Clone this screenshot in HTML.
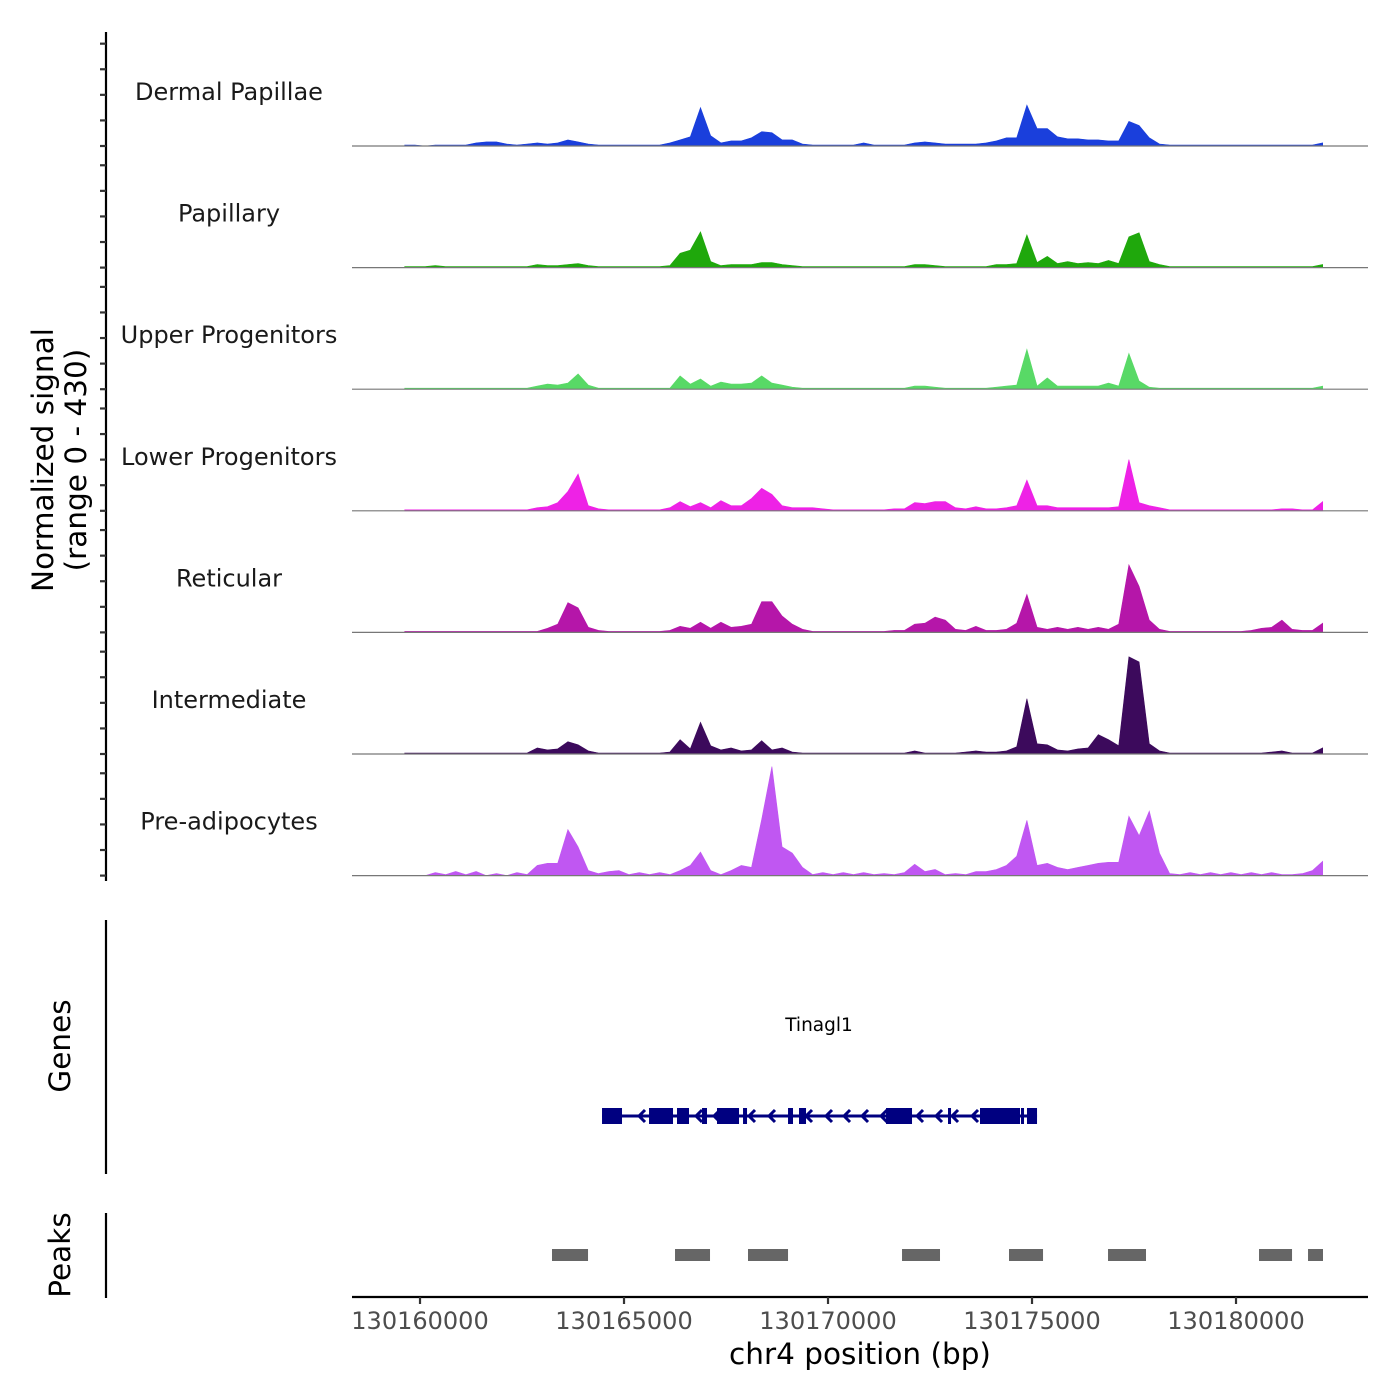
<!DOCTYPE html>
<html>
<head>
<meta charset="utf-8">
<style>
  html,body{margin:0;padding:0;background:#fff;}
  svg{display:block;font-family:"DejaVu Sans","Liberation Sans",sans-serif;}
</style>
</head>
<body>
<svg id="chart" width="1400" height="1400" viewBox="0 0 1400 1400" xmlns="http://www.w3.org/2000/svg">
  <rect x="0" y="0" width="1400" height="1400" fill="#ffffff"/>
  <text transform="translate(53,460) rotate(-90)" text-anchor="middle" font-size="29.5" fill="#000">Normalized signal</text>
  <text transform="translate(86,460) rotate(-90)" text-anchor="middle" font-size="29.5" fill="#000">(range 0 - 430)</text>
  <line x1="106" y1="32" x2="106" y2="881" stroke="#000" stroke-width="2.2"/>
  <g id="tracks"></g>
  <g id="yticks"></g>

  <text transform="translate(70,1046) rotate(-90)" text-anchor="middle" font-size="29.5" fill="#000">Genes</text>
  <line x1="106" y1="920" x2="106" y2="1174" stroke="#000" stroke-width="2.2"/>
  <text x="819" y="1031" text-anchor="middle" font-size="18.5" fill="#000">Tinagl1</text>
  <g id="gene"></g>

  <text transform="translate(70,1255) rotate(-90)" text-anchor="middle" font-size="29.5" fill="#000">Peaks</text>
  <line x1="106" y1="1213" x2="106" y2="1298" stroke="#000" stroke-width="2.2"/>
  <g id="peaks"></g>

  <line x1="352" y1="1297" x2="1368" y2="1297" stroke="#000" stroke-width="2.2"/>
  <g id="xticks"></g>
  <text x="860" y="1364" text-anchor="middle" font-size="29.5" fill="#000">chr4 position (bp)</text>
</svg>
<script>
// ---- data ----
const trackNames = ["Dermal Papillae","Papillary","Upper Progenitors","Lower Progenitors","Reticular","Intermediate","Pre-adipocytes"];
const trackColors = ["#1a3fdc","#1fa80c","#58d966","#ee22e6","#b516a9","#3c0a5c","#c057f2"];
const binStart = 130159500;
const binSize = 250;
const yMax = 430;
const sigDermalPapillae = [4,4,0,4,4,4,4,12,16,16, 8,4,8,12,8,12,24,16,8,4, 4,4,4,4,4,4,12,24,36,150, 40,12,20,20,32,56,52,24,24,8, 4,4,4,4,4,12,4,4,4,4, 12,16,12,8,8,8,8,12,20,32, 32,160,68,68,36,28,28,24,24,20, 20,96,80,32,8,4,4,4,4,4, 4,4,4,4,4,4,4,4,4,4, 12];
const sigPapillary = [4,4,4,8,4,4,4,4,4,4, 4,4,4,12,8,8,12,16,8,4, 4,4,4,4,4,4,8,56,68,140, 24,8,12,12,12,20,20,12,8,4, 4,4,4,4,4,4,4,4,4,4, 12,12,8,4,4,4,4,4,12,12, 16,128,20,44,16,24,16,20,16,28, 16,120,136,24,12,4,4,4,4,4, 4,4,4,4,4,4,4,4,4,4, 12];
const sigUpperProgenitors = [4,4,4,4,4,4,4,4,4,4, 4,4,4,12,20,16,24,60,16,4, 4,4,4,4,4,4,4,52,20,40, 12,28,20,20,24,52,24,16,8,4, 4,4,4,4,4,4,4,4,4,4, 12,12,8,4,4,4,4,4,8,12, 16,156,12,44,12,12,12,12,12,24, 12,140,32,8,4,4,4,4,4,4, 4,4,4,4,4,4,4,4,4,4, 12];
const sigLowerProgenitors = [4,4,4,4,4,4,4,4,4,4, 4,4,4,12,16,32,76,144,20,8, 4,4,4,4,4,4,12,36,16,32, 12,40,20,20,48,88,64,20,12,12, 12,8,4,4,4,4,4,4,8,8, 32,28,36,36,12,8,16,8,8,12, 20,120,20,20,12,12,12,12,12,12, 16,200,32,20,12,4,4,4,4,4, 4,4,4,4,4,4,8,8,4,4, 36];
const sigReticular = [4,4,4,4,4,4,4,4,4,4, 4,4,4,4,16,32,116,96,20,8, 4,4,4,4,4,4,8,24,16,40, 16,40,20,24,32,120,120,64,32,12, 4,4,4,4,4,4,4,4,8,8, 32,36,60,48,12,8,24,8,8,12, 36,148,20,12,20,12,20,12,20,12, 32,264,180,48,12,4,4,4,4,4, 4,4,4,8,16,20,48,12,8,8, 36];
const sigIntermediate = [4,4,4,4,4,4,4,4,4,4, 4,4,4,24,16,20,48,36,12,4, 4,4,4,4,4,4,8,56,20,124, 32,16,24,12,16,52,16,24,8,4, 4,4,4,4,4,4,4,4,4,4, 12,4,4,4,4,8,12,8,8,12, 28,216,40,36,16,12,20,24,76,56, 32,380,360,40,12,4,4,4,4,4, 4,4,4,4,4,8,12,4,4,4, 24];
const sigPreadipocytes = [0,0,0,12,4,16,4,16,0,8, 0,12,4,40,48,48,180,112,20,8, 16,20,4,12,4,12,4,20,40,92, 20,4,20,40,32,220,426,112,88,32, 4,12,4,12,4,12,4,8,4,12, 44,16,24,4,8,4,16,16,24,40, 76,216,40,48,32,24,32,40,48,52, 52,232,156,252,88,8,4,12,4,12, 4,12,4,12,4,12,4,4,8,20, 56];
const trackSignals = [sigDermalPapillae,sigPapillary,sigUpperProgenitors,sigLowerProgenitors,sigReticular,sigIntermediate,sigPreadipocytes];
const yTickValues = [0,100,200,300,400];
const xTickValues = [130160000,130165000,130170000,130175000,130180000];
const xTickLabels = ["130160000","130165000","130170000","130175000","130180000"];
const geneStart = 130164461;
const geneEnd = 130175123;
const exonStarts = [130164461,130165613,130166299,130166912,130167279,130167917,130169020,130169289,130171422,130172941,130173725,130174730,130174877];
const exonEnds   = [130164951,130166201,130166593,130167034,130167819,130168015,130169142,130169461,130172059,130173015,130174706,130174804,130175123];
const arrowPositions = [130165392,130166789,130167230,130168088,130168578,130169485,130169975,130170417,130170858,130171324,130172206,130172672,130173064,130173554];
const peakStarts = [130163235,130166250,130168039,130171814,130174436,130176863,130180564,130181765];
const peakEnds   = [130164118,130167108,130169020,130172745,130175270,130177794,130181373,130182132];

// ---- scales ----
const NS = "http://www.w3.org/2000/svg";
const xL = 352, xR = 1368, bpL = 130158333, bpR = 130183235;
function xScale(bp){ return xL + (bp - bpL) / (bpR - bpL) * (xR - xL); }
const trackBase0 = 146, trackStep = 121.6, trackH = 110;
function yScale(v, t){ return trackBase0 + t*trackStep - Math.min(v, yMax) / yMax * trackH; }
function mk(tag, attrs, parent){ const e = document.createElementNS(NS, tag); for (const k in attrs) e.setAttribute(k, attrs[k]); parent.appendChild(e); return e; }

// ---- signal tracks ----
const tracksG = document.getElementById('tracks');
const ytG = document.getElementById('yticks');
trackNames.forEach((name, t) => {
  const sig = trackSignals[t];
  const base = yScale(0, t);
  const g = mk('g', {}, tracksG);
  
  
  const first = xScale(binStart + binSize/2);
  let d = 'M' + first.toFixed(1) + ',' + base.toFixed(1);
  sig.forEach((v, i) => {
    const x = xScale(binStart + binSize*(i + 0.5));
    d += ' L' + x.toFixed(1) + ',' + yScale(v, t).toFixed(1);
  });
  const last = xScale(binStart + binSize*(sig.length - 0.5));
  d += ' L' + last.toFixed(1) + ',' + base.toFixed(1) + ' Z';
  const area = mk('path', {d: d, fill: trackColors[t], stroke: trackColors[t], 'stroke-width': 0.6}, g);
  
  
  const bl = mk('line', {x1: xL, y1: base, x2: xR, y2: base, stroke: '#777', 'stroke-width': 1.2}, g);
  
  
  const lab = mk('text', {x: 229, y: base - 46, 'text-anchor': 'middle', 'font-size': 24, fill: '#1a1a1a'}, g);
  
  
  lab.textContent = name;
  yTickValues.forEach(v => {
    const y = yScale(v, t);
    const tk = mk('line', {x1: 100, y1: y, x2: 106, y2: y, stroke: '#333', 'stroke-width': 2.2}, ytG);
    
    
  });
});

// ---- gene model ----
const geneG = document.getElementById('gene');
const gy = 1116;
const gl = mk('line', {x1: xScale(geneStart), y1: gy, x2: xScale(geneEnd), y2: gy, stroke: '#000080', 'stroke-width': 3}, geneG);


exonStarts.forEach((s, i) => {
  const x1 = xScale(s), x2 = xScale(exonEnds[i]);
  const r = mk('rect', {x: x1, y: gy - 8, width: Math.max(2.5, x2 - x1), height: 16, fill: '#000080'}, geneG);
  
  
});
arrowPositions.forEach(p => {
  const x = xScale(p);
  const a = mk('path', {d: 'M' + (x+5) + ',' + (gy-6) + ' L' + (x-1) + ',' + gy + ' L' + (x+5) + ',' + (gy+6), fill: 'none', stroke: '#000080', 'stroke-width': 3}, geneG);
  
  
});

// ---- peaks ----
const peaksG = document.getElementById('peaks');
peakStarts.forEach((s, i) => {
  const x1 = xScale(s), x2 = xScale(peakEnds[i]);
  const r = mk('rect', {x: x1, y: 1249, width: x2 - x1, height: 12, fill: '#666666'}, peaksG);
  
  
});

// ---- x ticks ----
const xtG = document.getElementById('xticks');
xTickValues.forEach((v, i) => {
  const x = xScale(v);
  const tk = mk('line', {x1: x, y1: 1297, x2: x, y2: 1304, stroke: '#333', 'stroke-width': 2.2}, xtG);
  
  
  const lab = mk('text', {x: x, y: 1329, 'text-anchor': 'middle', 'font-size': 24, fill: '#4d4d4d'}, xtG);
  
  
  lab.textContent = xTickLabels[i];
});
</script>
</body>
</html>
